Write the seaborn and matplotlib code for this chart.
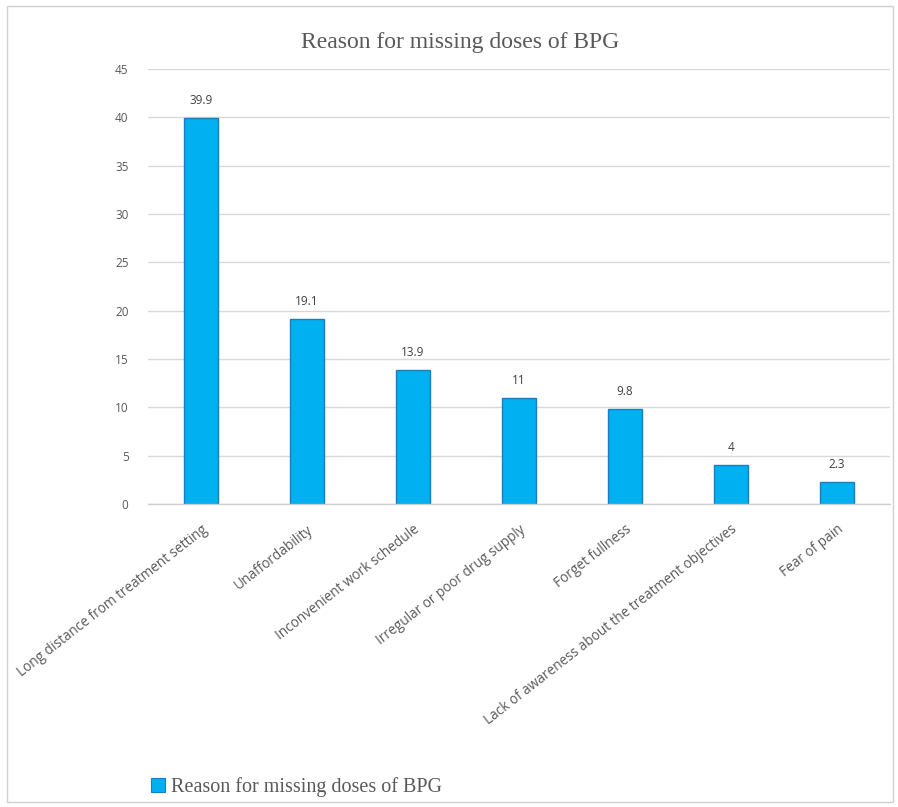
import matplotlib
matplotlib.use("Agg")
import matplotlib.pyplot as plt
import seaborn as sns
import pandas as pd
from matplotlib.patches import Rectangle, Patch

categories = [
    "Long distance from treatment setting",
    "Unaffordability",
    "Inconvenient work schedule",
    "Irregular or poor drug supply",
    "Forget fullness",
    "Lack of awareness about the treatment objectives",
    "Fear of pain",
]
values = [39.9, 19.1, 13.9, 11, 9.8, 4, 2.3]
value_labels = ["39.9", "19.1", "13.9", "11", "9.8", "4", "2.3"]
yticks = [0, 5, 10, 15, 20, 25, 30, 35, 40, 45]
series_name = "Reason for missing doses of BPG"

df = pd.DataFrame({"category": categories, "value": values})

sns.set_theme(style="white")
plt.rcParams["font.family"] = ["Open Sans", "DejaVu Sans"]

fig = plt.figure(figsize=(8.98, 8.07), dpi=100)
ax = fig.add_axes([0.1648, 0.3755, 0.8262, 0.539])

bar_color = "#00B0F0"
sns.barplot(data=df, x="category", y="value", ax=ax, color=bar_color,
            width=0.32, edgecolor="#1A7DC4", linewidth=1.0, saturation=1)

ax.set_ylim(0, 45)
ax.set_yticks(yticks)
ax.set_yticklabels([str(t) for t in yticks], color="#595959", fontsize=8.5)
ax.set_xlim(-0.5, len(categories) - 0.5)
ax.yaxis.grid(True, color="#D9D9D9", linewidth=1.0)
ax.set_axisbelow(True)
for s in ["top", "right", "left"]:
    ax.spines[s].set_visible(False)
ax.spines["bottom"].set_color("#D0D0D0")
ax.spines["bottom"].set_linewidth(1.0)
ax.tick_params(axis="y", length=0, pad=14)
ax.tick_params(axis="x", length=0, pad=13)
ax.set_xlabel("")
ax.set_ylabel("")
ax.set_xticks(range(len(categories)))
ax.set_xticklabels(categories, rotation=38, ha="right", va="top",
                   rotation_mode="anchor", color="#595959", fontsize=9.8)

for i, (v, lab) in enumerate(zip(values, value_labels)):
    ax.annotate(lab, (i, v), xytext=(0, 8), textcoords="offset points",
                ha="center", va="bottom", fontsize=8.5, color="#404040")

fig.text(0.512, 0.947, series_name, ha="center", va="center",
         fontsize=17, color="#595959", family=["Liberation Serif", "DejaVu Serif"])

handle = Patch(facecolor=bar_color, edgecolor="#1A7DC4", linewidth=0.8)
leg = fig.legend([handle], [series_name], loc="center left",
                 bbox_to_anchor=(0.148, 0.025), frameon=False,
                 handlelength=0.7, handleheight=0.7, handletextpad=0.3,
                 prop={"family": ["Liberation Serif", "DejaVu Serif"], "size": 14.5})
for t in leg.get_texts():
    t.set_color("#595959")

fig.patches.append(Rectangle((0.008, 0.006), 0.986, 0.986, transform=fig.transFigure,
                             fill=False, edgecolor="#D0D0D0", linewidth=1.0))

fig.savefig("out.png", dpi=100, facecolor="white")
